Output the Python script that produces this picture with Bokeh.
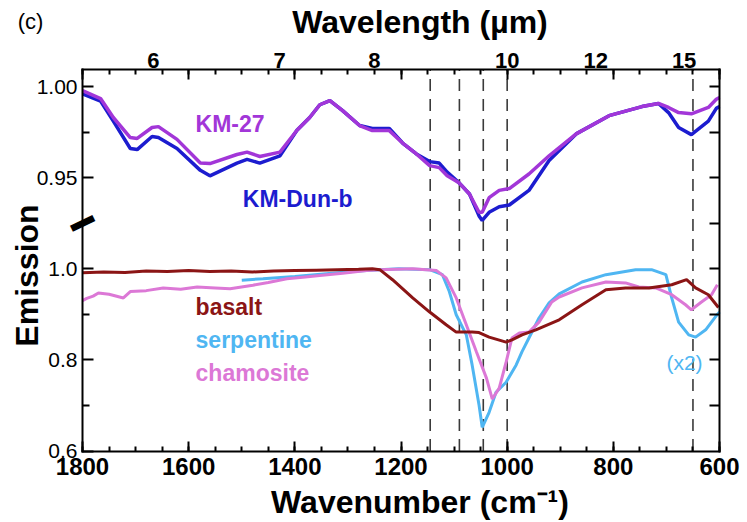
from bokeh.plotting import figure
from bokeh.models import Range1d, LinearAxis, FixedTicker, Label
from bokeh.embed import file_html
from bokeh.resources import INLINE

# ---------------- data ----------------
# upper panel: remote spectra (emission, 0.925-1.00 scale)
km_wn = [1800, 1766, 1742, 1710, 1697, 1669, 1657, 1622, 1578, 1560, 1509, 1490, 1466, 1428, 1396,
         1372, 1353, 1334, 1310, 1278, 1254, 1222, 1197, 1171, 1146, 1128, 1113, 1090, 1071, 1053,
         1047, 1034, 1015, 996, 959, 921, 870, 808, 746, 715, 696, 677, 653, 621, 606, 600]
km27 = [0.9978, 0.9934, 0.983, 0.972, 0.9715, 0.9775, 0.978, 0.971, 0.958, 0.9577, 0.9627, 0.964,
        0.9616, 0.964, 0.976, 0.983, 0.990, 0.9923, 0.9868, 0.9786, 0.9758, 0.9758, 0.969, 0.963,
        0.9566, 0.9555, 0.951, 0.947, 0.941, 0.931, 0.931, 0.939, 0.943, 0.944, 0.952, 0.962, 0.974,
        0.984, 0.989, 0.9907, 0.9885, 0.9857, 0.985, 0.9885, 0.993, 0.994]
km_dun_b = [0.996, 0.992, 0.981, 0.966, 0.9654, 0.9726, 0.972, 0.966, 0.954, 0.951, 0.958, 0.960,
            0.958, 0.962, 0.976, 0.983, 0.990, 0.9923, 0.9868, 0.9786, 0.977, 0.977, 0.969, 0.963,
            0.9588, 0.958, 0.953, 0.947, 0.941, 0.929, 0.9265, 0.931, 0.934, 0.935, 0.943, 0.9594,
            0.974, 0.984, 0.989, 0.9907, 0.9857, 0.9775, 0.9736, 0.981, 0.988, 0.989]

# lower panel: laboratory spectra (emission, 0.6-1.0 scale)
basalt_wn = [1800, 1760, 1720, 1680, 1640, 1600, 1560, 1520, 1480, 1440, 1400, 1360, 1320, 1280, 1254,
             1240, 1216, 1178, 1146, 1115, 1096, 1066, 1053, 1034, 1002, 991, 972, 946, 902, 859,
             814, 777, 733, 690, 662, 645, 621, 602]
basalt = [0.991, 0.993, 0.992, 0.995, 0.994, 0.996, 0.994, 0.995, 0.993, 0.995, 0.996, 0.997, 0.998,
          0.999, 1.0, 0.998, 0.976, 0.936, 0.905, 0.877, 0.861, 0.861, 0.860, 0.850, 0.839, 0.844,
          0.855, 0.866, 0.888, 0.921, 0.954, 0.958, 0.958, 0.965, 0.976, 0.958, 0.943, 0.915]

serp_wn = [1500, 1460, 1400, 1330, 1280, 1240, 1204, 1146, 1122, 1109, 1096, 1077, 1066, 1053, 1047,
           1034, 1021, 1002, 983, 972, 959, 940, 921, 902, 859, 814, 758, 728, 701, 690, 677, 658,
           645, 626, 608, 600]
serpentine = [0.975, 0.978, 0.983, 0.99, 0.995, 0.998, 1.0, 0.998, 0.987, 0.95, 0.899, 0.855, 0.789,
              0.701, 0.652, 0.685, 0.729, 0.751, 0.789, 0.818, 0.848, 0.892, 0.925, 0.945, 0.971,
              0.987, 0.998, 0.998, 0.987, 0.936, 0.883, 0.855, 0.850, 0.866, 0.894, 0.905]

cham_wn = [1800, 1792, 1780, 1770, 1750, 1723, 1710, 1680, 1648, 1615, 1584, 1550, 1522, 1479, 1450,
           1415, 1380, 1353, 1310, 1265, 1240, 1178, 1133, 1115, 1096, 1077, 1058, 1039, 1028, 1015,
           1002, 991, 977, 959, 940, 916, 902, 859, 814, 777, 752, 720, 690, 664, 653, 634, 615, 604]
chamosite = [0.930, 0.935, 0.940, 0.947, 0.944, 0.936, 0.950, 0.952, 0.958, 0.955, 0.960, 0.958,
             0.956, 0.964, 0.970, 0.978, 0.982, 0.985, 0.990, 0.996, 0.998, 1.0, 0.996, 0.98, 0.936,
             0.877, 0.818, 0.76, 0.714, 0.738, 0.795, 0.848, 0.859, 0.861, 0.883, 0.927, 0.938,
             0.958, 0.971, 0.969, 0.96, 0.958, 0.943, 0.921, 0.91, 0.927, 0.943, 0.965]

band_wn = [1145, 1090, 1045, 1000, 650]          # dashed reference lines
x_major = [1800, 1600, 1400, 1200, 1000, 800, 600]
x_minor = list(range(600, 1801, 50))
wavelength_labels = [6, 7, 8, 10, 12, 15]        # µm
lab_major = [0.6, 0.8, 1.0]
lab_minor = [0.7, 0.9]
top_major = [0.95, 1.00]
top_minor = [0.975]
top_right = [0.925, 0.95, 0.975, 1.00]

# ---------------- broken-axis mapping ----------------
OFFSET = 0.4   # upper-panel 1.00 sits 0.4 lab-units above lab 1.0
GAIN = 4.0     # 0.05 in upper panel == 0.2 in lower panel


def top_y(v):
    return round(1.0 + OFFSET + (v - 1.0) * GAIN, 6)


# plot-box limits (data units) and whole-canvas view range
X0, X1 = 1800, 600
Y0, Y1 = 0.6, 1.4373
VIEW_X = (1954.5, 547.25)
VIEW_Y = (0.4431, 1.5888)

FONT = "Liberation Sans"
C_KM27 = "#a236d8"
C_DUN = "#1c1ccf"
C_BAS = "#8b1515"
C_SERP = "#4fb6f2"
C_CHAM = "#dc78d6"

p = figure(width=747, height=522, x_range=Range1d(*VIEW_X), y_range=Range1d(*VIEW_Y),
           output_backend="svg", toolbar_location=None,
           x_axis_location=None, y_axis_location=None, min_border=0)
p.xgrid.grid_line_color = None
p.ygrid.grid_line_color = None
p.outline_line_color = None
p.background_fill_color = "white"
p.border_fill_color = "white"

# dashed band lines (spanning the plot box)
p.segment(x0=band_wn, y0=[Y0] * len(band_wn), x1=band_wn, y1=[Y1] * len(band_wn),
          line_color="#3a3a3a", line_width=1.6, line_dash="12 8")

# lab spectra
p.line(serp_wn, serpentine, line_color=C_SERP, line_width=3)
p.line(cham_wn, chamosite, line_color=C_CHAM, line_width=3)
p.line(basalt_wn, basalt, line_color=C_BAS, line_width=3)

# remote spectra (upper panel)
p.line(km_wn, [top_y(v) for v in km_dun_b], line_color=C_DUN, line_width=3.5)
p.line(km_wn, [top_y(v) for v in km27], line_color=C_KM27, line_width=3.5)


# ---------------- axes ----------------
def style_axis(ax):
    ax.axis_line_width = 2
    ax.axis_line_color = "black"
    ax.axis_line_cap = "square"
    ax.major_tick_line_width = 2
    ax.minor_tick_line_width = 2
    ax.major_tick_line_color = "black"
    ax.minor_tick_line_color = "black"
    ax.major_label_text_font = FONT
    ax.axis_label_text_font = FONT
    ax.axis_label_text_font_style = "bold"
    ax.axis_label_text_color = "black"
    ax.major_label_text_color = "black"


def title_axis(loc, bounds, label, standoff):
    ax = LinearAxis(fixed_location=loc, bounds=bounds, ticker=FixedTicker(ticks=[], minor_ticks=[]),
                    axis_label=label)
    style_axis(ax)
    ax.axis_line_color = None
    ax.major_tick_line_color = None
    ax.minor_tick_line_color = None
    ax.major_tick_out = 0
    ax.major_label_standoff = 0
    ax.axis_label_text_font_size = "32px"
    ax.axis_label_standoff = standoff
    return ax


xt = FixedTicker(ticks=x_major, minor_ticks=x_minor)
bottom = LinearAxis(ticker=xt, fixed_location=Y0, bounds=(X1, X0))
style_axis(bottom)
bottom.major_tick_in, bottom.major_tick_out = 10, 0
bottom.minor_tick_in, bottom.minor_tick_out = 5, 0
bottom.major_label_text_font_size = "24px"
bottom.major_label_text_font_style = "bold"
bottom.major_label_standoff = 7
p.add_layout(bottom, "below")

TITLE_X = (563.3, 1763.3)   # title centre sits a little right of the box centre
p.add_layout(title_axis(Y0, TITLE_X, "Wavenumber (cm⁻¹)", 32), "below")

top_ticks = LinearAxis(ticker=FixedTicker(ticks=x_major, minor_ticks=x_minor),
                       fixed_location=Y1, bounds=(X1, X0))
style_axis(top_ticks)
top_ticks.major_tick_in, top_ticks.major_tick_out = 10, 0
top_ticks.minor_tick_in, top_ticks.minor_tick_out = 5, 0
top_ticks.major_label_overrides = {t: "" for t in x_major}
top_ticks.major_label_text_font_size = "1px"
p.add_layout(top_ticks, "above")

wl_pos = [10000.0 / w for w in wavelength_labels]
top_lab = LinearAxis(ticker=FixedTicker(ticks=wl_pos, minor_ticks=[]),
                     fixed_location=Y1, bounds=(X1, X0))
style_axis(top_lab)
top_lab.major_label_overrides = {pos: str(w) for pos, w in zip(wl_pos, wavelength_labels)}
top_lab.axis_line_color = None
top_lab.major_tick_line_color = None
top_lab.minor_tick_line_color = None
top_lab.major_tick_in, top_lab.major_tick_out = 0, 0
top_lab.major_label_text_font_size = "22px"
top_lab.major_label_text_font_style = "bold"
top_lab.major_label_standoff = 2
p.add_layout(top_lab, "above")
p.add_layout(title_axis(Y1, TITLE_X, "Wavelength (µm)", 30), "above")

left_major = lab_major + [top_y(v) for v in top_major]
left_minor = lab_minor + [top_y(v) for v in top_minor]
left_over = {v: f"{v:.1f}" for v in lab_major}
left_over.update({top_y(v): f"{v:.2f}" for v in top_major})
left = LinearAxis(ticker=FixedTicker(ticks=left_major, minor_ticks=left_minor),
                  fixed_location=X0, bounds=(Y0, Y1))
style_axis(left)
left.major_label_overrides = left_over
left.major_tick_in, left.major_tick_out = 11, 0
left.minor_tick_in, left.minor_tick_out = 7, 0
left.major_label_text_font_size = "21px"
left.major_label_standoff = 5
p.add_layout(left, "left")
p.add_layout(title_axis(X0, (0.6853, 1.2853), "Emission", 38), "left")

right_ticks = [0.7, 0.8, 0.9, 1.0] + [top_y(v) for v in top_right]
right = LinearAxis(ticker=FixedTicker(ticks=right_ticks, minor_ticks=[]),
                   fixed_location=X1, bounds=(Y0, Y1))
style_axis(right)
right.major_tick_in, right.major_tick_out = 10, 0
right.major_label_overrides = {t: "" for t in right_ticks}
right.major_label_text_font_size = "1px"
p.add_layout(right, "right")

# axis-break mark on the left axis
p.add_layout(Label(x=X0, y=top_y(0.925), text="━", angle=0.45, text_align="center",
                   text_baseline="middle", text_font="DejaVu Sans Mono",
                   text_font_size="40px", text_color="black"))


# ---------------- series labels ----------------
def add_text(x, y, txt, color, size="23px", style="bold", align="left"):
    p.add_layout(Label(x=x, y=y, text=txt, text_color=color, text_font=FONT,
                       text_font_size=size, text_font_style=style, text_align=align,
                       text_baseline="middle"))


add_text(1587, top_y(0.9797), "KM-27", C_KM27)
add_text(1498, top_y(0.9385), "KM-Dun-b", C_DUN)
add_text(1587, 0.9164, "basalt", C_BAS)
add_text(1587, 0.844, "serpentine", C_SERP)
add_text(1587, 0.771, "chamosite", C_CHAM)
add_text(666, 0.795, "(x2)", C_SERP, size="21px", style="normal", align="center")
add_text(1922, 1.5427, "(c)", "black", size="22px", style="normal", align="left")

open("out.html", "w").write(file_html(p, INLINE))
